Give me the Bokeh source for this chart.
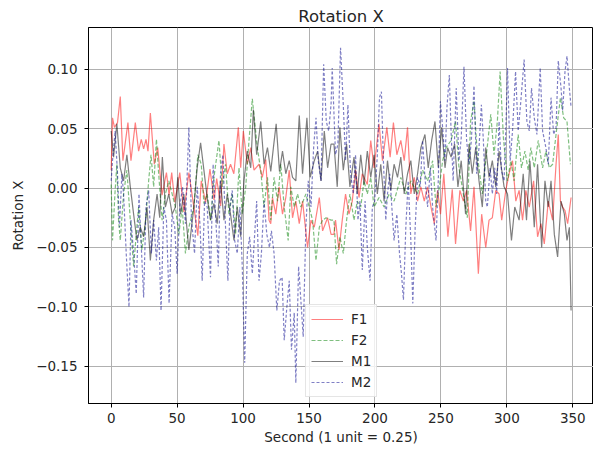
from bokeh.plotting import figure
from bokeh.models import Range1d, FixedTicker, CustomJSTickFormatter, Legend
from bokeh.embed import file_html
from bokeh.resources import INLINE

# ---- data (peaks/troughs) ----
f1_x = [0, 1, 2.5, 4.8, 6.9, 8.9, 12.7, 15, 18.3, 20.8, 22.8, 24.6, 26.4, 27.9, 29.7, 32.7, 35.3, 38.6, 41.9, 43.9,
        45.9, 48.2, 52, 55.1, 58.9, 62.7, 65.7, 68.3, 71.6, 74.9, 78, 80, 83, 85.5, 88, 90.5, 93, 96.4, 98.2, 100.2,
        103.2, 105.8, 108.3, 112.1, 114.6, 117.2, 119.7, 121, 122.3, 124.8, 127.3, 129.9, 132.4, 135, 137.5, 140,
        142.6, 145.1, 148.9, 151.5, 154, 157.8, 160.3, 164.1, 166.7, 168.9, 170.1, 172.7, 175.2, 177.7, 180.3, 182.8,
        185.3, 187.9, 190.4, 194.2, 196.8, 199.3, 203.1, 205.7, 209, 211.5, 214, 216.6, 219.6, 222.2, 224.7, 227.2,
        229.8, 232.3, 234.8, 237.4, 239.9, 242.5, 245, 247.5, 249.7, 252.2, 255.3, 258.6, 261.1, 264.4, 267, 269.5,
        272.5, 275.1, 278.4, 280.9, 284, 286.5, 289, 291.6, 294.1, 296.1, 299.2, 301.7, 304.3, 306.8, 309.3, 311.9,
        314.4, 317, 320.3, 323.3, 325.8, 328.4, 331.4, 334.7, 337.3, 339, 340.6, 342.3, 344.1, 346.1, 348.7]
f1_y = [0.015, 0.059, 0.051, 0.055, 0.077, 0.023, 0.055, 0.023, 0.055, 0.031, 0.041, 0.033, 0.041, 0.031, 0.063,
        0.020, 0.034, -0.006, 0.013, -0.006, 0.013, -0.012, 0.013, -0.020, 0.013, -0.016, -0.040, 0.006, -0.012,
        0.016, -0.010, 0.008, -0.015, 0.037, 0.012, 0.020, 0.012, 0.051, 0.017, 0.048, 0.020, 0.034, 0.015, 0.020,
        0.009, 0.024, -0.027, -0.030, -0.008, -0.022, 0.001, -0.022, -0.008, 0.015, -0.025, -0.011, -0.030, -0.011,
        -0.050, -0.027, -0.033, -0.008, -0.036, -0.025, -0.039, -0.039, -0.027, -0.052, -0.027, -0.005, -0.022,
        -0.011, 0.015, -0.008, 0.012, 0.003, 0.040, 0.017, 0.054, 0.023, 0.051, 0.026, 0.055, 0.028, 0.040, 0.023,
        0.051, -0.005, 0.009, -0.011, 0.001, -0.011, 0.001, -0.016, -0.030, -0.002, -0.022, 0.012, -0.041, -0.001,
        -0.047, -0.002, -0.011, -0.002, -0.036, 0.001, -0.072, -0.022, -0.050, -0.027, -0.025, -0.002, -0.005,
        -0.027, -0.002, 0.012, 0.023, -0.011, -0.002, -0.027, -0.002, -0.016, 0.006, -0.041, -0.030, -0.047, -0.011,
        -0.027, 0.020, 0.045, -0.011, -0.016, -0.019, -0.030, -0.008]

f2_x = [0, 1, 3, 4.3, 5.6, 6.9, 9.4, 11.9, 14.5, 17, 19, 20.8, 23.3, 25.9, 28.4, 30.2, 32.2, 34.3, 36, 38.6, 41.1,
        43.7, 46.2, 48.7, 51.3, 53.8, 56.3, 58.9, 62.7, 65.7, 68.3, 70.3, 72.8, 75.4, 77.9, 81.7, 84.2, 86.7, 89.3,
        91.8, 94.3, 96.9, 99.4, 102, 104.5, 107, 108.8, 110.8, 113.4, 115.9, 118.5, 121, 123.5, 126.1, 128.6, 131.2,
        134.2, 136.2, 138.8, 141.3, 143.8, 147.6, 152.7, 155.3, 157.8, 160.3, 162.9, 166.7, 168.9, 170.9, 173.4, 176,
        178.5, 181, 184.1, 186.6, 189.2, 191.7, 194.2, 196.8, 199.3, 203.1, 206.9, 210.7, 214.5, 219.6, 223.4, 227.2,
        232.3, 236.1, 239.9, 243.7, 246.3, 248.8, 251.3, 253.9, 257.7, 261.1, 263.7, 267, 270, 272.5, 275.1, 277.6,
        281.4, 284, 287.8, 290.3, 292.8, 294.9, 297.4, 300.5, 303, 305.5, 308.6, 311.1, 313.7, 316.2, 318.2, 320.8,
        323.8, 327.1, 329.6, 332.2, 334.7, 337.3, 340.6, 343.1, 345.6, 348.2]
f2_y = [0.003, -0.044, -0.002, 0.020, -0.027, -0.044, -0.005, 0.015, -0.027, -0.066, -0.039, -0.016, -0.052, -0.030,
        0.006, 0.028, 0.001, 0.041, 0.012, -0.027, -0.005, 0.006, -0.005, -0.016, -0.039, -0.016, -0.055, -0.033,
        -0.016, 0.028, 0.020, -0.013, -0.005, -0.027, 0.009, 0.040, 0.001, 0.020, -0.022, -0.005, -0.039, 0.017,
        -0.022, 0.001, 0.040, 0.075, 0.056, 0.034, 0.015, -0.016, 0.009, -0.027, 0.009, -0.011, 0.020, -0.016,
        -0.044, 0.001, -0.016, -0.005, -0.016, -0.005, -0.027, -0.061, -0.033, -0.027, -0.025, -0.027, -0.027,
        -0.064, -0.041, -0.055, -0.027, -0.005, -0.027, -0.011, -0.016, 0.006, -0.005, 0.009, -0.016, -0.008,
        -0.016, -0.005, -0.011, 0.009, -0.005, 0.006, -0.005, 0.015, 0.006, 0.023, -0.016, 0.001, 0.023, 0.034,
        0.040, 0.056, 0.017, -0.005, -0.025, 0.056, 0.073, 0.028, -0.005, 0.023, 0.062, 0.028, 0.056, 0.098, 0.042,
        0.006, 0.023, 0.006, 0.045, 0.017, 0.031, 0.015, 0.034, 0.017, 0.040, 0.017, 0.031, 0.017, 0.020, 0.045,
        0.076, 0.059, 0.056, 0.020]

m1_x = [0, 1.8, 4.3, 6.9, 9.4, 11.9, 14.5, 17, 19.5, 22.1, 24.6, 27.2, 29.7, 32.2, 34.8, 36.8, 38.8, 41.1, 43.7,
        46.2, 48.7, 50.5, 52.5, 55.1, 58.9, 62.7, 65.2, 67.8, 70.3, 72.8, 75.3, 77.9, 80.4, 82.9, 85.5, 88, 90.5,
        93.1, 95.6, 98.2, 100.7, 103.2, 105.8, 107.8, 110.3, 113.4, 115.9, 118.5, 121, 123, 125.1, 127.6, 129.9,
        132.4, 135, 137.5, 140, 142.6, 145.1, 148.4, 150.9, 154, 156.5, 159.1, 161.6, 164.1, 166.7, 168.9, 171.4,
        173.4, 176, 178.5, 181, 184.1, 186.6, 189.2, 191.7, 194.2, 196.8, 199.3, 201.8, 204.4, 206.9, 209.5, 212,
        214.5, 217.1, 219.6, 222.2, 224.7, 227.2, 229.8, 232.3, 234.8, 237.9, 240.4, 243, 245.5, 248, 250.6, 253.1,
        255.1, 257.7, 260.4, 262.9, 265.4, 268.7, 271.3, 273.8, 276.4, 278.9, 281.4, 284, 286.5, 289, 291.6, 294.1,
        297.9, 300.5, 303.5, 306, 309.3, 312.4, 314.9, 317.5, 320.8, 323.3, 326.4, 328.9, 331.4, 333.5, 336, 338.5,
        341.1, 343.6, 345.6, 347.4, 348.7]
m1_y = [0.048, 0.026, 0.054, 0.017, 0.006, 0.028, 0.001, -0.022, -0.044, -0.033, -0.041, -0.016, -0.061, -0.027,
        -0.005, -0.025, 0.026, -0.016, -0.005, -0.022, -0.016, 0.009, -0.022, -0.005, -0.052, -0.016, 0.017, 0.038,
        0.015, -0.008, -0.027, -0.013, -0.030, 0.006, -0.027, -0.005, -0.022, -0.044, -0.016, -0.041, 0.006, 0.031,
        0.017, 0.066, 0.028, 0.056, 0.020, 0.034, 0.014, 0.034, 0.054, 0.014, 0.031, 0.012, 0.023, 0.009, 0.006,
        0.061, 0.012, 0.059, 0.009, 0.023, 0.031, 0.006, 0.048, 0.017, 0.037, 0.037, 0.001, 0.051, 0.015, 0.037,
        0.001, 0.026, -0.005, 0.028, 0.003, 0.031, 0.009, 0.028, -0.005, 0.020, -0.011, 0.023, -0.002, 0.020, 0.009,
        0.026, -0.005, 0.012, 0.023, -0.005, 0.012, 0.034, 0.045, 0.017, 0.040, 0.056, 0.017, 0.051, 0.017, 0.034,
        0.026, 0.037, 0.001, 0.023, -0.022, 0.037, 0.012, 0.034, 0.006, -0.016, 0.034, 0.009, 0.023, 0.001, 0.031,
        0.001, -0.005, -0.044, -0.016, -0.027, 0.012, -0.027, 0.023, -0.033, 0.020, -0.050, 0.006, -0.016, 0.006,
        -0.039, -0.058, -0.011, -0.022, -0.044, -0.033, -0.103]

m2_x = [0, 1, 3, 4.8, 6.3, 8.1, 9.4, 11.4, 13.5, 15, 17, 19, 21.1, 22.6, 24.6, 26.4, 28.4, 30.5, 32.2, 34.3, 36,
        37.8, 39.9, 41.9, 43.9, 46.2, 48.2, 50, 52, 54.1, 56.3, 58.9, 60.9, 63.2, 65.2, 67.3, 69, 70.8, 72.8, 75.3,
        77.3, 79.1, 81.2, 82.9, 84.7, 86.7, 88.5, 90, 91.8, 93.6, 95.6, 97.6, 99.4, 101.2, 103.2, 105, 107, 108.8,
        110.3, 112.1, 113.9, 115.9, 118, 120, 121.5, 123.5, 125.6, 127.6, 129.6, 131.2, 133.2, 135, 136.7, 138.8, 140,
        142.1, 143.8, 145.6, 147.6, 149.4, 151.5, 153.5, 155.3, 157, 159.1, 161.1, 163.1, 164.9, 166.7, 167.6, 170.1,
        171.9, 173.9, 176, 177.7, 179.5, 181.5, 183.6, 185.3, 187.1, 188.6, 190.4, 192.5, 194.2, 196.3, 198, 199.8,
        201.8, 203.4, 204.9, 206.4, 208.2, 209.5, 211.2, 212.8, 214.5, 216.6, 218.6, 220.1, 221.6, 223.4, 225.2,
        227.2, 228.7, 230.5, 232.3, 234.3, 236.1, 237.9, 239.9, 242, 243.7, 246.3, 248, 249.6, 251.3, 253.1, 254.6,
        256.4, 257.7, 259.3, 261.6, 263.7, 265.4, 267.5, 269.5, 271.3, 273.1, 275.1, 277.1, 278.9, 280.7, 282.2, 284,
        285.2, 287.3, 289, 290.8, 292.3, 294.1, 295.9, 297.9, 299.4, 300.5, 302.5, 304.3, 306.6, 308.6, 310.6, 313.1,
        315.2, 317, 318.7, 320.8, 322.8, 325.3, 327.1, 329.6, 331.4, 333.5, 335.5, 337.3, 339, 341.1, 342.3, 344.1,
        345.6, 347.4, 348.7]
m2_y = [0.006, 0.023, 0.048, 0.012, -0.033, 0.012, -0.005, -0.055, -0.100, -0.027, -0.055, -0.089, -0.005, -0.044,
        -0.092, -0.016, -0.002, -0.055, -0.027, -0.061, -0.033, -0.103, -0.016, -0.027, -0.097, -0.022, -0.033,
        -0.072, -0.016, 0.001, -0.030, 0.051, -0.027, -0.055, 0.001, -0.030, -0.078, -0.011, -0.016, -0.075, 0.020,
        -0.022, -0.066, 0.012, 0.028, -0.033, -0.078, -0.016, -0.002, -0.044, -0.055, -0.016, -0.066, -0.147,
        -0.055, -0.041, -0.072, -0.039, -0.011, -0.078, -0.055, -0.011, -0.039, -0.050, -0.036, -0.055, -0.103,
        -0.078, -0.075, -0.128, -0.100, -0.078, -0.136, -0.105, -0.164, -0.066, -0.094, -0.125, -0.033, 0.006,
        -0.016, 0.034, 0.059, 0.023, 0.006, 0.104, 0.056, 0.048, 0.070, 0.101, 0.028, 0.037, 0.118, 0.070, 0.023,
        0.070, 0.012, -0.005, 0.028, -0.027, -0.011, -0.069, -0.011, -0.050, -0.078, -0.016, -0.011, 0.028, 0.076,
        0.081, 0.023, -0.027, -0.005, 0.012, -0.016, -0.044, -0.022, -0.055, -0.072, -0.094, -0.033, 0.006, -0.044,
        -0.097, -0.033, 0.009, 0.001, 0.040, 0.009, -0.016, 0.017, -0.016, -0.044, 0.006, 0.073, 0.051, 0.023,
        0.068, 0.095, 0.048, 0.006, 0.084, 0.023, 0.042, 0.102, 0.040, 0.020, 0.040, 0.086, 0.012, 0.034, 0.070,
        0.040, -0.011, -0.016, 0.017, -0.005, 0.017, -0.005, 0.056, 0.015, 0.006, 0.056, 0.101, 0.023, 0.048, 0.098,
        0.048, 0.073, 0.108, 0.056, 0.048, 0.084, 0.059, 0.045, 0.101, 0.048, 0.034, 0.020, 0.076, 0.045, 0.051,
        0.107, 0.084, 0.065, 0.098, 0.111, 0.084, 0.068]

x_ticks = [0, 50, 100, 150, 200, 250, 300, 350]
y_ticks = [-0.15, -0.10, -0.05, 0.0, 0.05, 0.10]

FONT = "DejaVu Sans"
TXT = "#262626"

p = figure(width=593, height=450, output_backend="svg", toolbar_location=None,
           x_range=Range1d(-17.2, 365.7), y_range=Range1d(-0.1812, 0.135),
           min_border_left=88, min_border_right=0, min_border_top=27, min_border_bottom=47)
p.background_fill_color = "white"
p.border_fill_color = "white"
p.outline_line_color = "black"
p.outline_line_width = 1

p.title.text = "Rotation X"
p.title.align = "center"
p.title.text_font = FONT
p.title.text_font_size = "16.5px"
p.title.text_font_style = "normal"
p.title.text_color = TXT
p.title.standoff = 3

p.xaxis.ticker = FixedTicker(ticks=x_ticks)
p.yaxis.ticker = FixedTicker(ticks=y_ticks)
p.yaxis.formatter = CustomJSTickFormatter(code="""
    return (tick < -1e-9 ? "\\u2212" : "") + Math.abs(tick).toFixed(2);
""")
p.xaxis.axis_label = "Second (1 unit = 0.25)"
p.yaxis.axis_label = "Rotation X"
for ax in (p.xaxis, p.yaxis):
    ax.axis_line_color = "black"
    ax.major_tick_line_color = "black"
    ax.major_tick_out = 4
    ax.major_tick_in = 0
    ax.minor_tick_line_color = None
    ax.major_label_text_font = FONT
    ax.major_label_text_font_size = "13.5px"
    ax.major_label_text_color = TXT
    ax.axis_label_text_font = FONT
    ax.axis_label_text_font_size = "13.5px"
    ax.axis_label_text_font_style = "normal"
    ax.axis_label_text_color = TXT
p.xaxis.major_label_standoff = 5
p.xaxis.axis_label_standoff = 3
p.yaxis.major_label_standoff = 7
p.yaxis.axis_label_standoff = 7

p.xgrid.grid_line_color = "#b0b0b0"
p.ygrid.grid_line_color = "#b0b0b0"
p.xgrid.grid_line_width = 1
p.ygrid.grid_line_width = 1

r1 = p.line(f1_x, f1_y, line_color="red", line_alpha=0.5, line_width=1.2)
r2 = p.line(f2_x, f2_y, line_color="green", line_alpha=0.5, line_width=1.2, line_dash="4 2")
r3 = p.line(m1_x, m1_y, line_color="black", line_alpha=0.5, line_width=1.2)
r4 = p.line(m2_x, m2_y, line_color="darkblue", line_alpha=0.5, line_width=1.2, line_dash="3 2")

legend = Legend(items=[("F1", [r1]), ("F2", [r2]), ("M1", [r3]), ("M2", [r4])],
                location=(217, 6), orientation="vertical")
legend.label_text_font = FONT
legend.label_text_font_size = "13.5px"
legend.label_text_color = TXT
legend.glyph_width = 32
legend.glyph_height = 18
legend.label_height = 18
legend.spacing = 3
legend.padding = 5
legend.margin = 0
legend.label_standoff = 8
legend.border_line_color = "#cccccc"
legend.background_fill_color = "white"
legend.background_fill_alpha = 0.8
p.add_layout(legend, "center")

open("out.html", "w").write(file_html(p, INLINE))
